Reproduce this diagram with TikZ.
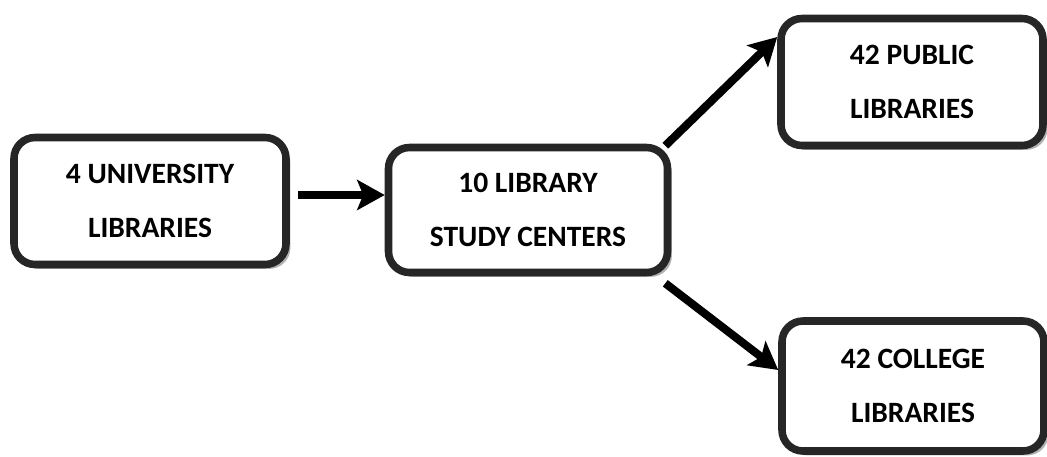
\documentclass[tikz,border=0pt]{standalone}
\usepackage{fontspec}
\setmainfont{Carlito}
\usetikzlibrary{arrows.meta,shadows}

\begin{document}
\begin{tikzpicture}[>={Stealth[length=0.55cm,width=0.6cm,inset=0.12cm]},thick]
\tikzstyle{box}=[rectangle,draw=black!85,line width=4.3pt,rounded corners=0.42cm,fill=white,align=center,font=\bfseries\fontsize{16.8}{30.5}\selectfont,minimum height=2.54cm,drop shadow={shadow xshift=2.5pt,shadow yshift=-2.5pt,fill=gray!60,opacity=1}]
\tikzstyle{flow}=[->,line width=4.6pt]
\useasboundingbox (0,0) rectangle (20.94,-9.12);
\node[box,minimum width=5.44cm] (uni) at (3.0,-4.02) {4 UNIVERSITY\\LIBRARIES};
\node[box,minimum width=5.58cm,minimum height=2.5cm] (study) at (10.56,-4.2) {10 LIBRARY\\STUDY CENTERS};
\node[box,minimum width=5.24cm] (public) at (18.24,-1.64) {42 PUBLIC\\LIBRARIES};
\node[box,minimum width=5.24cm,minimum height=2.6cm] (college) at (18.26,-7.72) {42 COLLEGE\\LIBRARIES};
\draw[flow] ([xshift=0.16cm,yshift=0.12cm]uni.east) -- ([yshift=0.12cm]uni.east -| study.west);
\draw[flow] ([xshift=-0.12cm,yshift=-0.04cm]study.north east) -- ([yshift=0.9cm]public.west);
\draw[flow] ([xshift=-0.12cm,yshift=-0.14cm]study.south east) -- ([yshift=0.32cm]college.west);
\end{tikzpicture}
\end{document}
